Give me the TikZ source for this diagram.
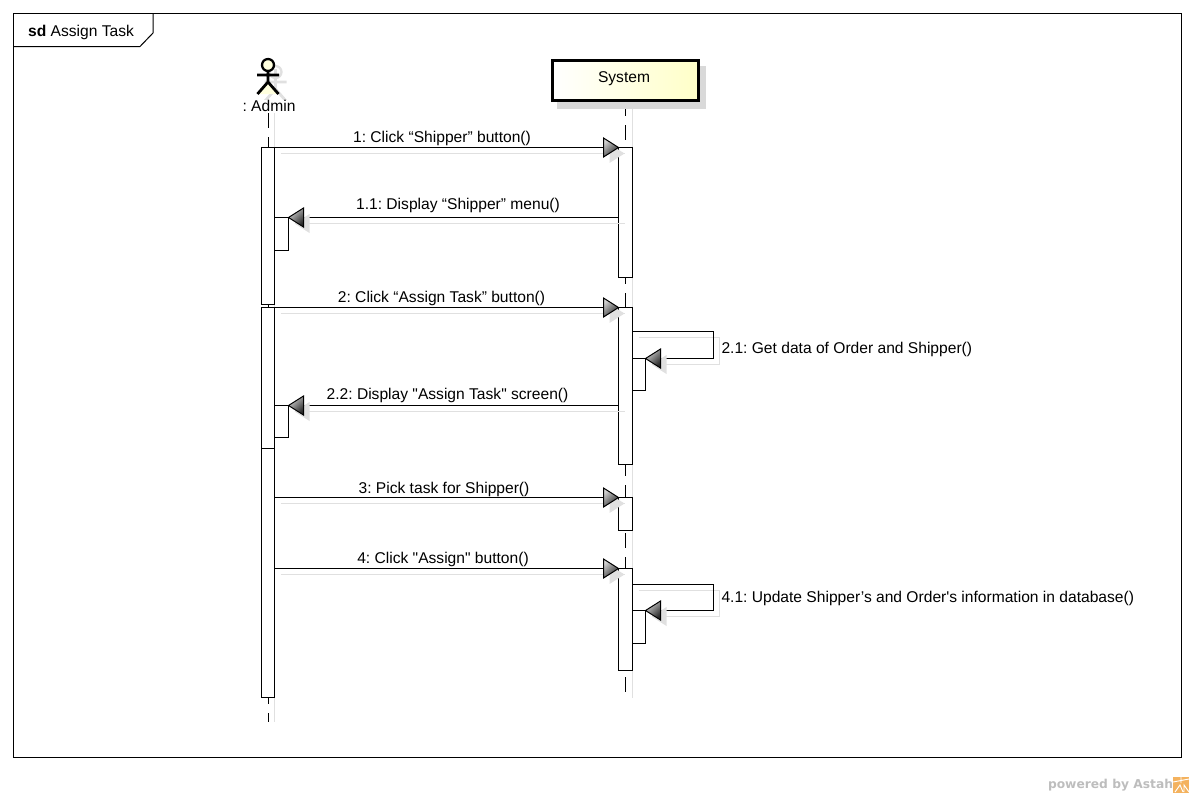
\documentclass[tikz,border=0pt]{standalone}
\usepackage{fontspec}
\setmainfont[Ligatures=TeXOff]{Liberation Sans}
\newfontfamily\markfont{DejaVu Sans}
\definecolor{shadowgray}{HTML}{E0E0E0}
\definecolor{boxshadow}{HTML}{D9D9D9}
\definecolor{paleyellow}{HTML}{FFFFC8}
\definecolor{markgray}{HTML}{BDBDBD}
\definecolor{logoorange}{HTML}{F4B25E}

\tikzset{
    actbar/.style={draw, fill=white, anchor=north west, inner sep=0, outer sep=0,
        minimum width=13*0.75pt, minimum height=#1*0.75pt},
    sysbar/.style={actbar=#1, minimum width=14*0.75pt},
    msgline/.style={draw=black, preaction={draw=shadowgray, transform canvas={shift={(4.5pt,-4.5pt)}}}},
    msgtext/.style={inner sep=0, font=\fontsize{11.7}{14}\selectfont},
    lifeline/.style={dash pattern=on 11.6pt off 6.4pt},
    lifeshadow/.style={draw=shadowgray},
    headright/.pic={
        \fill[shadowgray] (-9,-3.5) -- (6,6) -- (-9,15.5) -- cycle;
        \shade[draw=black, top color=gray!35, bottom color=black!85, shading angle=45]
            (-15,-9.5) -- (0,0) -- (-15,9.5) -- cycle;
    },
    headleft/.pic={
        \fill[shadowgray] (21,-3.5) -- (6,6) -- (21,15.5) -- cycle;
        \shade[draw=black, top color=gray!35, bottom color=black!85, shading angle=45]
            (15,-9.5) -- (0,0) -- (15,9.5) -- cycle;
    },
    stickman/.pic={
        \draw[pic actions, line width=2.1pt] (0,-3) -- (0,17) (-11,10) -- (11,10)
            (-10.5,29) -- (0,17) -- (10.5,29);
        \draw[pic actions, line width=1.7pt] (0,0) circle (6);
    }
}

\begin{document}
\frenchspacing
\begin{tikzpicture}[x=0.75pt, y=-0.75pt, line width=0.75pt]
\useasboundingbox (0,0) rectangle (1194,797);

% frame
\node[draw, anchor=north west, inner sep=0, outer sep=0, minimum width=1167.5*0.75pt,
    minimum height=743.5*0.75pt] (frame) at (13.5,13.5) {};
\coordinate (tabA) at (13.5,46.5);
\coordinate (tabB) at (140,46.5);
\coordinate (tabC) at (153,33);
\draw (tabA) -- (tabB) -- (tabC) -- (tabC |- frame.north);
\node[msgtext] (title) at (81,32.5) {\textbf{sd} Assign Task};

% lifelines
\coordinate (admTop) at (268.5,113);
\coordinate (admEnd) at (268.5,722);
\coordinate (sysTop) at (625.5,101);
\coordinate (sysEnd) at (625.5,693);
\draw[lifeshadow] ([xshift=4.5pt]admTop) -- ([xshift=4.5pt]admEnd);
\draw[lifeshadow] ([xshift=4.9pt]sysTop) -- ([xshift=4.9pt,yshift=-3.5pt]sysEnd);
\draw[lifeline] (admTop) -- (admEnd);
\draw[lifeline] (sysTop) -- (sysEnd);

% actor
\pic[draw=shadowgray] at (275.5,72) {stickman};
\pic[draw=black, fill=paleyellow!60] at (268,65) {stickman};
\node[msgtext, fill=white, inner xsep=1pt] (admin) at (269,105.5) {: Admin};

% system box
\fill[boxshadow] (557,66) rectangle (706,109);
\node[draw, line width=2.25pt, anchor=north west, inner sep=0, outer sep=0, left color=white,
    right color=paleyellow, minimum width=145.5*0.75pt, minimum height=40*0.75pt]
    (system) at (552.5,60.5) {};
\node[msgtext] (systemText) at (624,79) {System};

% bars
\node[actbar=157] (adm1) at (261.5,147.5) {};
\node[actbar=141] (adm2) at (261.5,307.5) {};
\node[actbar=249] (adm3) at (261.5,448.5) {};
\node[sysbar=33] (admB1) at (274.5,217.5) {};
\node[sysbar=32] (admB2) at (274.5,405.5) {};
\node[sysbar=129.5] (sys1) at (618.5,147.5) {};
\node[sysbar=157] (sys2) at (618.5,307.5) {};
\node[sysbar=33] (sys3) at (618.5,497.5) {};
\node[sysbar=102] (sys4) at (618.5,568.5) {};
\node[actbar=32] (sysB1) at (632.5,358.5) {};
\node[actbar=33] (sysB2) at (632.5,610.5) {};
\coordinate (selfA) at (632.5,331.5);
\coordinate (selfB) at (713.5,331.5);
\coordinate (selfC) at (632.5,584.5);
\coordinate (selfD) at (713.5,584.5);

% messages
\draw[msgline] (adm1.north east) -- (sys1.north west);
\pic at (sys1.north west) {headright};
\draw[msgline] (sys1.west |- admB1.north) -- (admB1.north east);
\pic at (admB1.north east) {headleft};
\draw[msgline] (adm2.north east) -- (sys2.north west);
\pic at (sys2.north west) {headright};
\draw[msgline] (selfA) -- (selfB) |- (sysB1.north east);
\pic at (sysB1.north east) {headleft};
\draw[msgline] (sys2.west |- admB2.north) -- (admB2.north east);
\pic at (admB2.north east) {headleft};
\draw[msgline] (adm3.east |- sys3.north) -- (sys3.north west);
\pic at (sys3.north west) {headright};
\draw[msgline] (adm3.east |- sys4.north) -- (sys4.north west);
\pic at (sys4.north west) {headright};
\draw[msgline] (selfC) -- (selfD) |- (sysB2.north east);
\pic at (sysB2.north east) {headleft};

% labels
\node[msgtext] (lab1) at (442,138) {1: Click “Shipper” button()};
\node[msgtext] (lab11) at (458,205) {1.1: Display “Shipper” menu()};
\node[msgtext] (lab2) at (441.5,298) {2: Click “Assign Task” button()};
\node[msgtext, anchor=west] (lab21) at (721,349) {2.1: Get data of Order and Shipper()};
\node[msgtext] (lab22) at (447.5,395) {2.2: Display "Assign Task" screen()};
\node[msgtext] (lab3) at (444,489) {3: Pick task for Shipper()};
\node[msgtext] (lab4) at (443,559) {4: Click "Assign" button()};
\node[msgtext, anchor=west] (lab41) at (721,598) {4.1: Update Shipper’s and Order's information in database()};

% watermark
\node[inner sep=0, text=markgray, font=\markfont\bfseries\fontsize{9.2}{11}\selectfont] (mark) at (1110.5,785) {powered by Astah};
\fill[logoorange] (1173,777) rectangle (1189,793);
\draw[white, line width=0.7pt] (1173,782) -- (1189,779) (1181,777) -- (1181,783) (1175,792) -- (1180,785) -- (1183,792) (1184,792) -- (1184,785) -- (1189,792);
\end{tikzpicture}
\end{document}
